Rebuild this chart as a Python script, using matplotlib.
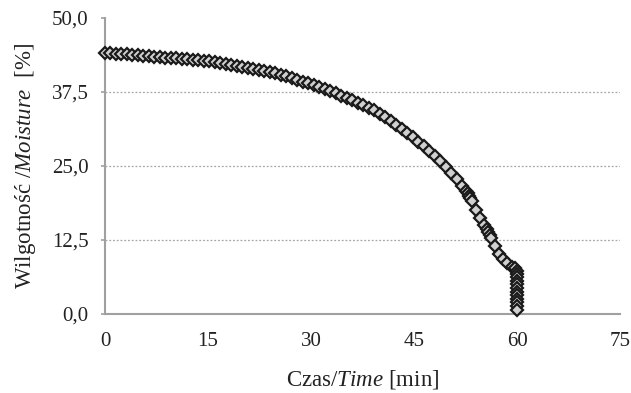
import matplotlib
matplotlib.use("Agg")
import matplotlib.pyplot as plt
from matplotlib.ticker import FuncFormatter

# dane
czas = [0.0, 0.8, 1.6, 2.4, 3.2, 4.0, 4.8, 5.6, 6.4, 7.2, 8.0, 8.8, 9.6, 10.4,
        11.2, 12.0, 12.8, 13.6, 14.4, 15.2, 16.0, 16.8, 17.6, 18.4, 19.2, 20.0,
        20.8, 21.6, 22.4, 23.2, 24.0, 24.8, 25.6, 26.4, 27.2, 28.0, 28.8, 29.6,
        30.4, 31.2, 32.0, 32.8, 33.6, 34.4, 35.2, 36.0, 36.8, 37.6, 38.4, 39.2,
        40.0, 40.8, 41.6, 42.4, 43.2, 44.0, 44.8, 45.6, 46.4, 47.2, 48.0, 48.8,
        49.6, 50.4, 51.2, 52.0, 52.6, 52.8, 53.0, 53.2, 53.4, 54.0, 54.6, 55.2,
        55.6, 55.8, 56.0, 56.2, 56.8, 57.4, 58.0, 58.6, 59.2, 59.7,
        60.0, 60.0, 60.0, 60.0, 60.0, 60.0, 60.0, 60.0, 60.0, 60.0, 60.0, 60.0]
wilgotnosc = [44.10, 44.05, 43.98, 43.92, 43.85, 43.78, 43.72, 43.64, 43.56,
              43.48, 43.40, 43.32, 43.24, 43.16, 43.08, 43.00, 42.92, 42.84,
              42.76, 42.67, 42.53, 42.38, 42.23, 42.08, 41.93, 41.80, 41.62,
              41.42, 41.22, 41.00, 40.82, 40.63, 40.40, 40.13, 39.85, 39.55,
              39.25, 38.95, 38.63, 38.30, 37.95, 37.60, 37.25, 36.88, 36.50,
              36.08, 35.65, 35.23, 34.80, 34.43, 33.85, 33.28, 32.62, 31.95,
              31.30, 30.60, 29.85, 29.10, 28.30, 27.50, 26.70, 25.85, 24.85,
              23.90, 22.80, 21.60, 20.80, 20.40, 20.00, 19.60, 19.10, 17.60,
              16.20, 15.10, 14.30, 13.80, 13.30, 12.80, 11.50, 10.20, 9.30,
              8.60, 8.00, 7.70,
              7.3, 6.8, 6.2, 5.6, 5.0, 4.4, 3.8, 3.2, 2.6, 2.0, 1.4, 0.7]
x_ticks = [0, 15, 30, 45, 60, 75]
y_ticks = [0.0, 12.5, 25.0, 37.5, 50.0]

plt.rcParams['font.family'] = ['Liberation Serif', 'DejaVu Serif']
plt.rcParams['mathtext.fontset'] = 'custom'
plt.rcParams['mathtext.rm'] = 'Liberation Serif'
plt.rcParams['mathtext.it'] = 'Liberation Serif:italic'

fig = plt.figure(figsize=(6.31, 3.93), dpi=100)
ax = fig.add_axes([105 / 631, 1 - 314 / 393, 515 / 631, 296 / 393])

ax.plot(czas, wilgotnosc, linestyle='none', marker='D', markersize=6.3,
        markerfacecolor='#d0d0d0', markeredgecolor='#1a1a1a', markeredgewidth=1.6,
        clip_on=False, zorder=3)

ax.set_xlim(0, 75)
ax.set_ylim(0, 50)
ax.set_xticks(x_ticks)
ax.set_yticks(y_ticks)
ax.yaxis.set_major_formatter(FuncFormatter(lambda v, p: f"{v:.1f}".replace('.', ',')))

for y in y_ticks[1:-1]:
    ax.axhline(y, color='#a6a6a6', linestyle=(0, (1.5, 1.5)), linewidth=0.9, zorder=1)

for s in ['top', 'right']:
    ax.spines[s].set_visible(False)
for s in ['left', 'bottom']:
    ax.spines[s].set_color('#a0a0a0')
    ax.spines[s].set_linewidth(1.5)

ax.tick_params(axis='y', direction='out', length=3, color='#a0a0a0', width=1.2,
               labelsize=15, pad=9, labelcolor='#222222')
ax.tick_params(axis='x', length=0, labelsize=15, pad=13, labelcolor='#222222')

ax.set_xlabel('Czas/$\\mathit{Time}$ [min]', fontsize=16.5, labelpad=12, color='#222222')
ax.set_ylabel('Wilgotność /$\\mathit{Moisture}$  [%]', fontsize=16.5, labelpad=10,
              color='#222222')

fig.savefig('out.png', dpi=100)
